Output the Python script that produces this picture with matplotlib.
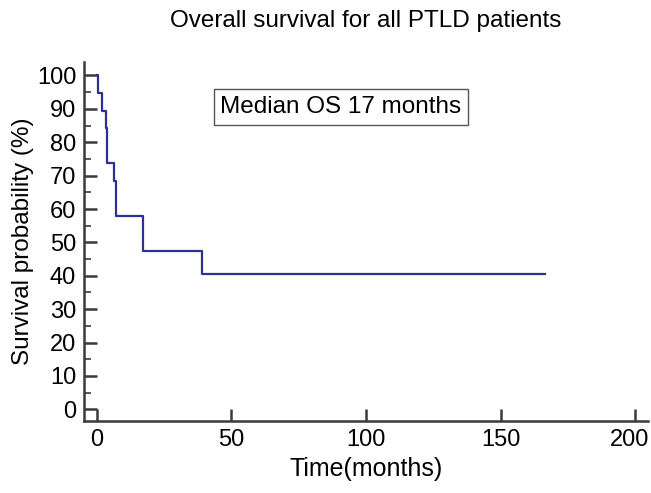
import matplotlib

matplotlib.use("Agg")
import matplotlib.pyplot as plt
from matplotlib.ticker import FuncFormatter, MultipleLocator

plt.rcParams["font.family"] = ["Liberation Sans", "DejaVu Sans"]

# Kaplan-Meier steps
time_months = [0, 0.6, 2.1, 3.5, 3.9, 6.4, 7.05, 17.1, 39.2, 166.5]
survival_pct = [100, 94.7, 89.5, 84.2, 73.7, 68.4, 57.9, 47.4, 40.6, 40.6]
median_label = "Median OS 17 months"
x_last_tick = 200

fig = plt.figure(figsize=(6.51, 4.93), dpi=100)
ax = fig.add_axes([0.1298, 0.1467, 0.8651, 0.7273])

ax.step(time_months, survival_pct, where="post", color="#2e3192", lw=1.6)

ax.set_xlim(-4.5, 204.6)
ax.set_ylim(-3.4, 104)
ax.xaxis.set_major_locator(MultipleLocator(50))
ax.yaxis.set_major_locator(MultipleLocator(10))
ax.yaxis.set_minor_locator(MultipleLocator(5))

spine_col = "#3a3a3a"
for side in ("top", "right"):
    ax.spines[side].set_visible(False)
for side in ("left", "bottom"):
    ax.spines[side].set_color(spine_col)
    ax.spines[side].set_linewidth(1.8)

ax.tick_params(axis="both", which="major", direction="in", length=9, width=1.8,
               color=spine_col, labelsize=17, pad=6)
ax.tick_params(axis="y", which="minor", direction="in", length=5, width=1.2,
               color=spine_col)

# the last x label sits a little left of its tick in the reference (it would hit the edge)
ax.xaxis.set_major_formatter(FuncFormatter(lambda v, _: "" if v >= x_last_tick else f"{v:.0f}"))
ax.annotate(f"{x_last_tick}", xy=(x_last_tick, 0), xycoords=ax.get_xaxis_transform(),
            xytext=(-4, -6 - 0.0), textcoords="offset points", ha="center", va="top",
            fontsize=17)

ax.set_xlabel("Time(months)", fontsize=18, labelpad=4)
ax.set_ylabel("Survival probability (%)", fontsize=17.5, labelpad=2)
ax.set_title("Overall survival for all PTLD patients", fontsize=17.5, pad=25)

ax.text(90.7, 90.6, median_label, ha="center", va="center", fontsize=17.5,
        bbox=dict(boxstyle="square,pad=0.28", fc="white", ec="#555555", lw=1))

fig.savefig("out.png", dpi=100)
